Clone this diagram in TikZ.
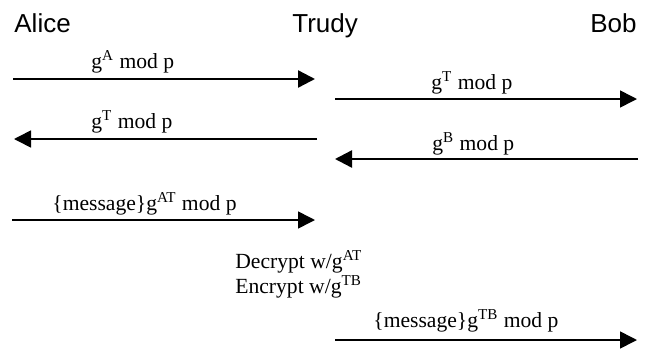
\documentclass[tikz,border=0pt]{standalone}
\usepackage{fontspec}
\setmainfont{Liberation Serif}
\setsansfont{Liberation Sans}
\usetikzlibrary{arrows.meta}
\newcommand{\gpow}[1]{g\textsuperscript{#1}}
\tikzset{
  party/.style={font=\sffamily\fontsize{13}{15}\selectfont,anchor=base west,inner sep=0pt},
  msglabel/.style={font=\fontsize{10.8}{13}\selectfont,anchor=base west,inner sep=0pt},
  send/.style={-{Triangle[length=8.5pt,width=8.5pt]},line width=0.8pt},
  heavy/.style={line width=1.2pt}
}

\begin{document}
\begin{tikzpicture}[x=0.5pt,y=-0.5pt]
  \useasboundingbox (0,0) rectangle (649,349);
  % the three parties
  \node[party] (alice) at (14,32) {Alice};
  \node[party] (trudy) at (292,32) {Trudy};
  \node[party] (bob) at (590,32) {Bob};
  % arrow ends
  \coordinate (a1) at (13,79);   \coordinate (t1) at (315,79);
  \coordinate (t2) at (335,99);  \coordinate (b2) at (637,99);
  \coordinate (t3) at (317,139); \coordinate (a3) at (14,139);
  \coordinate (b4) at (638,159); \coordinate (t4) at (335,159);
  \coordinate (a5) at (12,220);  \coordinate (t5) at (315,220);
  \coordinate (t6) at (335,340); \coordinate (b6) at (637,340);
  % messages
  \draw[send,heavy] (a1) -- (t1);
  \node[msglabel] (m1) at (91,68) {\gpow{A} mod p};
  \draw[send] (t2) -- (b2);
  \node[msglabel] (m2) at (431,89) {\gpow{T} mod p};
  \draw[send] (t3) -- (a3);
  \node[msglabel] (m3) at (91,128) {\gpow{T} mod p};
  \draw[send,heavy] (b4) -- (t4);
  \node[msglabel] (m4) at (432,150) {\gpow{B} mod p};
  \draw[send] (a5) -- (t5);
  \node[msglabel] (m5) at (52,210) {\{message\}\gpow{AT} mod p};
  \node[msglabel] (decrypt) at (235,268) {Decrypt w/\gpow{AT}};
  \node[msglabel] (encrypt) at (235,293) {Encrypt w/\gpow{TB}};
  \draw[send] (t6) -- (b6);
  \node[msglabel] (m6) at (373,327) {\{message\}\gpow{TB} mod p};
\end{tikzpicture}
\end{document}
